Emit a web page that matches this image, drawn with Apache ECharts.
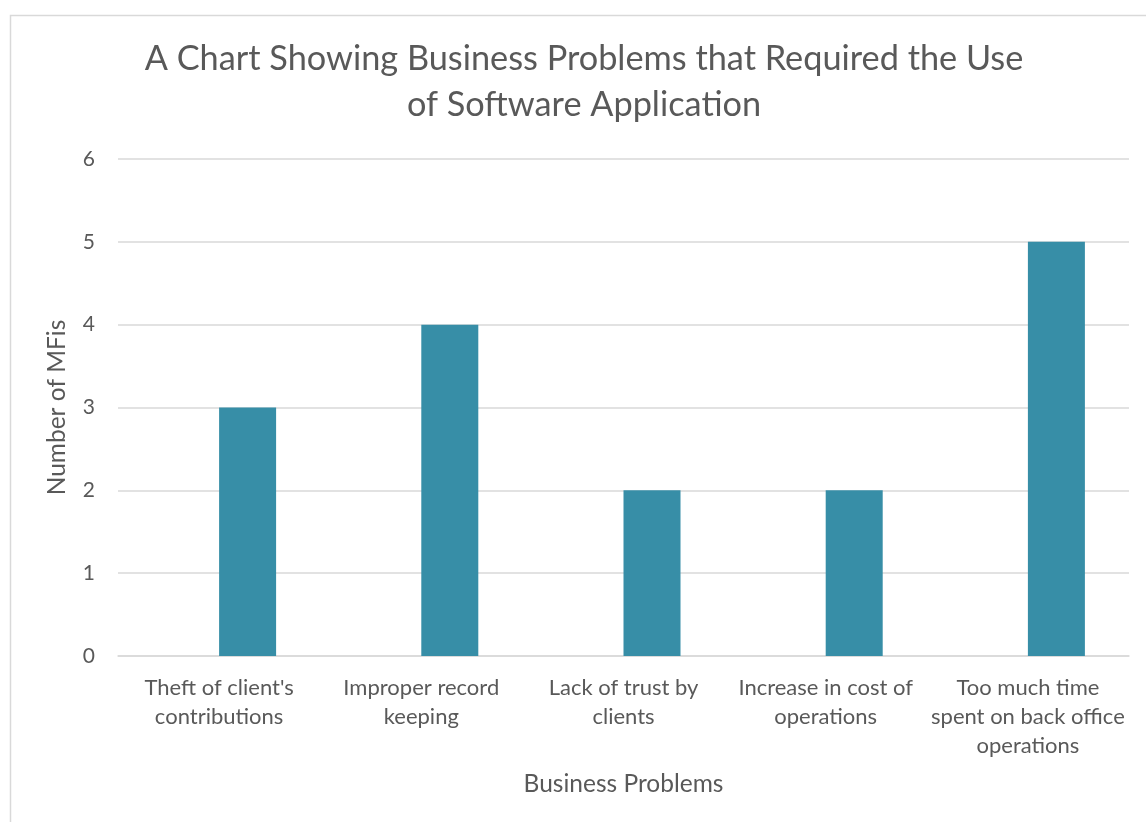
<!DOCTYPE html>
<html>
<head>
<meta charset="utf-8">
<style>
  html, body { margin: 0; padding: 0; background: #ffffff; }
  #chart { width: 1146px; height: 822px; }
</style>
<script src="https://cdn.jsdelivr.net/npm/echarts@6/dist/echarts.min.js"></script>
</head>
<body>
<div id="chart"></div>
<script>
// Business problems and how many MFIs reported each
const categories = [
  "Theft of client's\ncontributions",
  "Improper record\nkeeping",
  "Lack of trust by\nclients",
  "Increase in cost of\noperations",
  "Too much time\nspent on back office\noperations"
];
const mfiCounts = [3, 4, 2, 2, 5];
// empty companion series that shares each category slot
const emptySlot = [null, null, null, null, null];
const yTicks = [0, 1, 2, 3, 4, 5, 6];

const FONT = 'Lato, "Open Sans", sans-serif';
const TEXT = '#595959';

const chart = echarts.init(document.getElementById('chart'), null, { renderer: 'canvas' });

chart.setOption({
  backgroundColor: '#ffffff',
  animation: false,
  title: {
    text: 'A Chart Showing Business Problems that Required the Use\nof Software Application',
    left: 579,
    top: 31,
    textAlign: 'center',
    textStyle: { fontFamily: FONT, fontSize: 34.3, fontWeight: 'normal', color: TEXT, lineHeight: 46 }
  },
  graphic: [{
    type: 'rect',
    shape: { x: 10.5, y: 15.5, width: 1160, height: 830 },
    style: { fill: 'none', stroke: '#d9d9d9', lineWidth: 1.5 },
    silent: true
  }],
  grid: { left: 118, right: 17, top: 159, bottom: 166 },
  xAxis: {
    type: 'category',
    data: categories,
    name: 'Business Problems',
    nameLocation: 'middle',
    nameGap: 116,
    nameTextStyle: { fontFamily: FONT, fontSize: 24.5, color: TEXT },
    axisLine: { lineStyle: { color: '#d9d9d9', width: 1.5 } },
    axisTick: { show: false },
    axisLabel: {
      interval: 0, fontFamily: FONT, fontSize: 22, color: TEXT,
      lineHeight: 29, margin: 17
    }
  },
  yAxis: {
    type: 'value',
    min: yTicks[0],
    max: yTicks[yTicks.length - 1],
    interval: 1,
    name: 'Number of MFis',
    nameLocation: 'middle',
    nameGap: 48,
    nameTextStyle: { fontFamily: FONT, fontSize: 24.5, color: TEXT },
    axisLine: { show: false },
    axisTick: { show: false },
    splitLine: { lineStyle: { color: '#d9d9d9', width: 1.5 } },
    axisLabel: { fontFamily: FONT, fontSize: 21, color: TEXT, margin: 23 }
  },
  series: [
    {
      type: 'bar',
      data: emptySlot,
      barWidth: 57,
      barGap: '0%',
      itemStyle: { color: '#ffffff' },
      silent: true
    },
    {
      name: 'Number of MFis',
      type: 'bar',
      data: mfiCounts,
      barWidth: 57,
      barGap: '0%',
      itemStyle: { color: '#378ea7' }
    }
  ]
});
</script>
</body>
</html>
